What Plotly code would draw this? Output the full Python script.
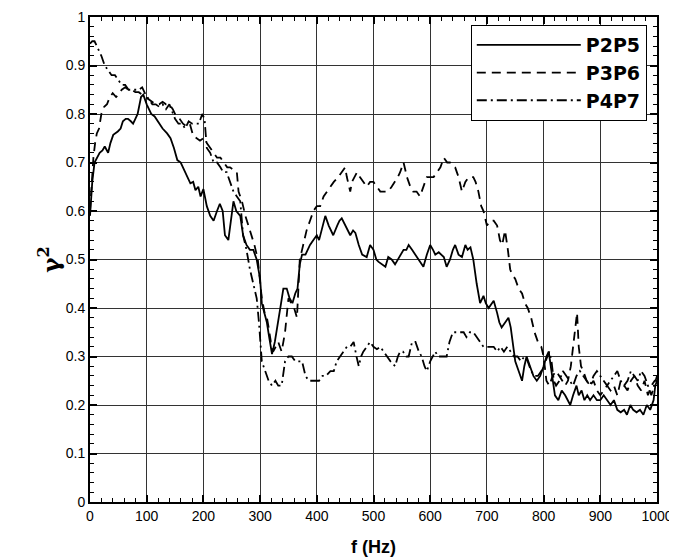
import plotly.graph_objects as go

# P2P5 (solid)
f_p2p5 = [0, 4, 8, 12, 17, 22, 26, 32, 36, 41, 45, 49, 54, 58, 63, 67, 72, 76, 80, 84, 90, 94, 100,
          108, 114, 120, 128, 136, 142, 148, 154, 160, 166, 172, 177, 182, 186, 191, 195, 200, 206,
          212, 218, 224, 229, 234, 238, 244, 248, 253, 258, 265, 270, 276, 282, 288, 294, 300, 303,
          308, 312, 316, 321, 326, 332, 337, 341, 347, 352, 357, 362, 366, 370, 374, 380, 388, 394,
          400, 404, 410, 415, 421, 425, 429, 436, 440, 444, 450, 455, 459, 464, 468, 474, 480, 488,
          494, 500, 505, 509, 515, 521, 526, 532, 538, 543, 547, 553, 558, 562, 568, 574, 580, 588,
          594, 600, 605, 609, 615, 620, 624, 629, 635, 640, 644, 650, 656, 662, 666, 671, 676, 682,
          688, 694, 698, 703, 708, 712, 718, 722, 726, 732, 738, 742, 746, 750, 756, 762, 766, 770,
          776, 782, 788, 794, 800, 805, 809, 814, 820, 826, 832, 838, 843, 847, 852, 858, 862, 867,
          872, 877, 882, 888, 894, 900, 906, 912, 918, 924, 930, 936, 942, 947, 953, 958, 964, 970,
          976, 982, 988, 994, 997, 1000]
g_p2p5 = [0.59, 0.66, 0.70, 0.71, 0.72, 0.725, 0.733, 0.72, 0.74, 0.757, 0.76, 0.764, 0.77, 0.785,
          0.79, 0.79, 0.785, 0.78, 0.79, 0.80, 0.835, 0.84, 0.82, 0.80, 0.795, 0.785, 0.77, 0.76,
          0.75, 0.73, 0.705, 0.70, 0.685, 0.67, 0.657, 0.66, 0.643, 0.65, 0.63, 0.645, 0.61, 0.59,
          0.58, 0.60, 0.615, 0.60, 0.55, 0.54, 0.58, 0.62, 0.60, 0.59, 0.55, 0.53, 0.52, 0.52, 0.50,
          0.46, 0.41, 0.39, 0.37, 0.34, 0.305, 0.33, 0.37, 0.41, 0.44, 0.44, 0.42, 0.41, 0.43, 0.44,
          0.49, 0.51, 0.51, 0.53, 0.54, 0.55, 0.54, 0.57, 0.59, 0.57, 0.56, 0.55, 0.57, 0.58, 0.585,
          0.57, 0.56, 0.55, 0.56, 0.555, 0.53, 0.51, 0.505, 0.53, 0.52, 0.50, 0.495, 0.49, 0.485,
          0.505, 0.50, 0.49, 0.50, 0.51, 0.52, 0.52, 0.53, 0.52, 0.51, 0.50, 0.485, 0.51, 0.53, 0.52,
          0.51, 0.515, 0.51, 0.505, 0.485, 0.50, 0.52, 0.53, 0.51, 0.505, 0.53, 0.52, 0.525, 0.50,
          0.45, 0.41, 0.425, 0.41, 0.40, 0.41, 0.415, 0.39, 0.37, 0.36, 0.37, 0.38, 0.36, 0.33, 0.29,
          0.27, 0.25, 0.28, 0.30, 0.28, 0.26, 0.25, 0.26, 0.28, 0.30, 0.31, 0.27, 0.22, 0.21, 0.23,
          0.22, 0.21, 0.20, 0.22, 0.24, 0.22, 0.23, 0.21, 0.22, 0.21, 0.22, 0.21, 0.21, 0.22, 0.21,
          0.20, 0.21, 0.19, 0.185, 0.19, 0.18, 0.20, 0.19, 0.185, 0.19, 0.18, 0.20, 0.19, 0.21, 0.24,
          0.25]

# P3P6 (dashed)
f_p3p6 = [0, 3, 6, 9, 12, 16, 20, 25, 30, 35, 40, 46, 50, 56, 62, 68, 74, 80, 86, 92, 98, 104, 110,
          116, 122, 128, 134, 140, 146, 152, 158, 164, 170, 176, 182, 188, 194, 200, 206, 212, 218,
          224, 230, 236, 242, 247, 253, 259, 262, 268, 274, 282, 290, 296, 303, 308, 312, 315, 319,
          323, 328, 332, 338, 344, 350, 355, 360, 365, 370, 376, 382, 388, 394, 400, 406, 412, 418,
          424, 430, 438, 444, 450, 453, 459, 462, 467, 471, 476, 482, 488, 494, 500, 506, 512, 518,
          526, 532, 538, 543, 547, 553, 559, 565, 570, 576, 582, 588, 594, 600, 606, 612, 618, 624,
          630, 635, 640, 644, 650, 656, 662, 668, 676, 680, 685, 690, 694, 700, 706, 712, 718, 723,
          727, 732, 737, 741, 744, 750, 756, 762, 767, 772, 778, 784, 790, 796, 800, 805, 810, 816,
          822, 828, 833, 838, 843, 848, 852, 856, 859, 862, 866, 870, 876, 882, 888, 894, 900, 906,
          912, 918, 924, 930, 936, 942, 948, 954, 960, 966, 972, 978, 984, 990, 996, 1000]
g_p3p6 = [0.60, 0.66, 0.71, 0.74, 0.76, 0.77, 0.80, 0.815, 0.82, 0.835, 0.843, 0.835, 0.84, 0.85,
          0.855, 0.85, 0.85, 0.845, 0.845, 0.84, 0.835, 0.83, 0.825, 0.82, 0.82, 0.825, 0.82, 0.82,
          0.81, 0.795, 0.79, 0.78, 0.775, 0.78, 0.755, 0.75, 0.745, 0.75, 0.74, 0.73, 0.72, 0.71,
          0.71, 0.70, 0.69, 0.69, 0.685, 0.68, 0.64, 0.62, 0.59, 0.56, 0.53, 0.50, 0.42, 0.39, 0.38,
          0.36, 0.33, 0.31, 0.32, 0.33, 0.31, 0.35, 0.42, 0.41, 0.40, 0.38, 0.50, 0.53, 0.56, 0.58,
          0.60, 0.61, 0.61, 0.63, 0.64, 0.65, 0.66, 0.67, 0.68, 0.69, 0.67, 0.64, 0.66, 0.67, 0.68,
          0.67, 0.66, 0.65, 0.66, 0.66, 0.65, 0.64, 0.64, 0.64, 0.65, 0.66, 0.67, 0.68, 0.70, 0.67,
          0.65, 0.64, 0.64, 0.63, 0.65, 0.67, 0.67, 0.67, 0.68, 0.69, 0.71, 0.70, 0.70, 0.695, 0.69,
          0.67, 0.64, 0.66, 0.67, 0.67, 0.66, 0.64, 0.61, 0.60, 0.57, 0.58, 0.58, 0.57, 0.54, 0.53,
          0.56, 0.52, 0.48, 0.47, 0.46, 0.44, 0.43, 0.41, 0.40, 0.38, 0.35, 0.33, 0.32, 0.30, 0.25,
          0.24, 0.26, 0.27, 0.26, 0.25, 0.24, 0.25, 0.28, 0.32, 0.36, 0.39, 0.32, 0.28, 0.27, 0.25,
          0.24, 0.25, 0.23, 0.22, 0.23, 0.24, 0.23, 0.24, 0.22, 0.25, 0.24, 0.23, 0.25, 0.26, 0.24,
          0.23, 0.25, 0.22, 0.24, 0.25, 0.25]

# P4P7 (dash-dot)
f_p4p7 = [0, 4, 8, 12, 16, 20, 26, 32, 38, 44, 50, 56, 62, 68, 74, 80, 86, 92, 98, 104, 110, 116,
          122, 128, 134, 140, 146, 150, 156, 162, 168, 174, 180, 186, 192, 198, 202, 206, 212, 218,
          224, 230, 235, 241, 247, 253, 259, 265, 270, 276, 282, 288, 294, 298, 301, 303, 306, 309,
          315, 321, 327, 332, 338, 344, 350, 356, 362, 368, 374, 380, 386, 392, 398, 404, 410, 416,
          424, 430, 435, 441, 447, 453, 459, 465, 470, 474, 478, 482, 488, 494, 500, 506, 512, 518,
          524, 530, 538, 543, 547, 552, 558, 562, 568, 574, 580, 585, 590, 594, 600, 605, 609, 614,
          618, 624, 629, 634, 640, 646, 653, 659, 664, 670, 676, 682, 688, 694, 700, 706, 712, 718,
          724, 730, 736, 742, 748, 754, 760, 766, 772, 778, 784, 790, 796, 800, 806, 810, 814, 818,
          822, 828, 834, 840, 846, 852, 858, 864, 870, 876, 882, 888, 894, 900, 906, 912, 918, 924,
          930, 936, 942, 948, 954, 960, 966, 972, 978, 984, 990, 995, 1000]
g_p4p7 = [0.945, 0.95, 0.95, 0.94, 0.93, 0.92, 0.90, 0.89, 0.88, 0.88, 0.87, 0.86, 0.86, 0.85,
          0.85, 0.85, 0.85, 0.855, 0.84, 0.83, 0.82, 0.82, 0.815, 0.82, 0.81, 0.82, 0.80, 0.79,
          0.78, 0.78, 0.77, 0.785, 0.78, 0.78, 0.78, 0.80, 0.79, 0.73, 0.72, 0.70, 0.70, 0.69, 0.68,
          0.68, 0.66, 0.64, 0.63, 0.62, 0.55, 0.52, 0.48, 0.45, 0.42, 0.37, 0.32, 0.29, 0.28, 0.27,
          0.25, 0.24, 0.25, 0.24, 0.24, 0.29, 0.30, 0.30, 0.29, 0.29, 0.29, 0.26, 0.25, 0.25, 0.25,
          0.25, 0.26, 0.26, 0.27, 0.27, 0.29, 0.30, 0.31, 0.32, 0.32, 0.33, 0.30, 0.28, 0.30, 0.31,
          0.32, 0.33, 0.32, 0.315, 0.32, 0.31, 0.30, 0.29, 0.28, 0.30, 0.31, 0.31, 0.30, 0.30, 0.33,
          0.33, 0.31, 0.30, 0.28, 0.27, 0.29, 0.30, 0.31, 0.30, 0.30, 0.30, 0.30, 0.33, 0.35, 0.35,
          0.35, 0.35, 0.34, 0.35, 0.35, 0.34, 0.33, 0.32, 0.32, 0.32, 0.32, 0.31, 0.32, 0.31, 0.32,
          0.31, 0.30, 0.30, 0.29, 0.30, 0.29, 0.27, 0.26, 0.26, 0.27, 0.28, 0.30, 0.31, 0.29, 0.25,
          0.24, 0.25, 0.27, 0.26, 0.25, 0.24, 0.26, 0.27, 0.26, 0.25, 0.24, 0.26, 0.27, 0.26, 0.25,
          0.24, 0.25, 0.26, 0.27, 0.25, 0.24, 0.25, 0.27, 0.26, 0.25, 0.27, 0.26, 0.24, 0.22, 0.24,
          0.26]

series = [
    ("P2P5", f_p2p5, g_p2p5, "solid"),
    ("P3P6", f_p3p6, g_p3p6, "9px,6px"),
    ("P4P7", f_p4p7, g_p4p7, "10px,4px,2px,4px"),
]

fig = go.Figure()
for name, f, g, dash in series:
    fig.add_trace(go.Scatter(x=f, y=g, mode="lines", name="<b>" + name + "</b>",
                             line=dict(color="black", width=1.8, dash=dash)))

axis_font = dict(family="Liberation Sans, Arial", size=14, color="black")
fig.update_xaxes(range=[0, 1000], dtick=100, showgrid=True, gridcolor="#333", gridwidth=1,
                 ticks="inside", ticklen=7, tickwidth=2, tickcolor="black",
                 minor=dict(dtick=20, ticks="inside", ticklen=4, tickwidth=1, tickcolor="black",
                            showgrid=False),
                 showline=True, linecolor="black", linewidth=2, mirror="allticks",
                 zeroline=False, tickfont=axis_font, automargin=False,
                 title=dict(text="<b>f (Hz)</b>", standoff=18,
                            font=dict(family="Liberation Sans, Arial", size=18, color="black")))
fig.update_yaxes(range=[0, 1], dtick=0.1, showgrid=True, gridcolor="#333", gridwidth=1,
                 ticks="inside", ticklen=7, tickwidth=2, tickcolor="black",
                 minor=dict(dtick=0.02, ticks="inside", ticklen=4, tickwidth=1, tickcolor="black",
                            showgrid=False),
                 showline=True, linecolor="black", linewidth=2, mirror="allticks",
                 zeroline=False, tickfont=axis_font, automargin=False,
                 title=dict(text="<b>γ<sup>2</sup></b>", standoff=0,
                            font=dict(family="DejaVu Serif, Liberation Serif", size=23, color="black")))

fig.update_layout(
    width=677, height=560,
    margin=dict(l=82, r=28, t=9, b=66),
    plot_bgcolor="white", paper_bgcolor="white",
    legend=dict(x=0.982, y=0.9835, xanchor="right", yanchor="top",
                bgcolor="white", bordercolor="black", borderwidth=1,
                itemwidth=104, tracegroupgap=0,
                font=dict(family="DejaVu Sans", size=19, color="black")),
)

fig.write_html("out.html")
